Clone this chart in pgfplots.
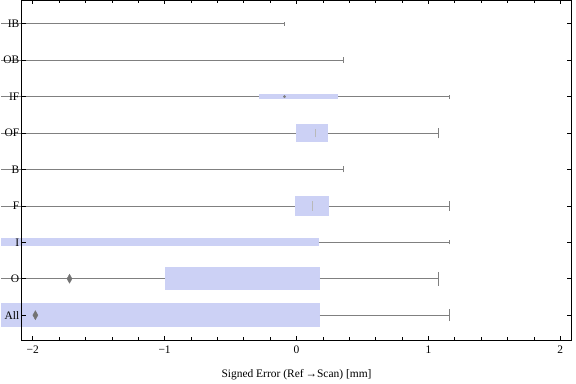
\documentclass[border=0pt]{standalone}
\usepackage{fontspec}
\setmainfont{Liberation Serif}
\usepackage{pgfplots}
\pgfplotsset{compat=1.18}
\definecolor{boxc}{rgb}{0.8,0.82,0.96}
\definecolor{wh}{rgb}{0.5,0.5,0.5}
\definecolor{outc}{rgb}{0.45,0.45,0.45}
\begin{document}
\begin{tikzpicture}
\begin{axis}[
 scale only axis, width=551pt, height=340.5pt,
 xmin=-2.083, xmax=2.083, ymin=0.32, ymax=9.64,
 clip=false, axis on top,
 axis line style={line width=0.8pt},
 xtick={-2,-1,0,1,2}, xticklabels={−2,−1,0,1,2}, minor x tick num=4,
 ytick={1,...,9}, yticklabels={All,O,I,F,B,OF,IF,OB,IB},
 tick align=inside, major tick length=4pt, minor tick length=2.5pt,
 tick style={black, line width=0.6pt},
 ticklabel style={font=\fontsize{11.5}{13}\selectfont},
 yticklabel style={xshift=1pt},
 xticklabel style={yshift=-2.5pt},
 xlabel={Signed Error (Ref\,→Scan) [mm]},
 xlabel style={font=\fontsize{11.5}{13}\selectfont, yshift=-9pt},
 wsk/.style={wh, line width=0.7pt, forget plot},
 bx/.style={fill=boxc, draw=none, forget plot},
]
% invisible extent to the right edge
\addplot[draw=none, forget plot] coordinates {(2.119,5)};
% ---- boxes
\addplot[bx] coordinates {(-0.286,6.922) (0.314,6.922) (0.314,7.078) (-0.286,7.078)};
\addplot[bx] coordinates {(-0.005,5.744) (0.236,5.744) (0.236,6.256) (-0.005,6.256)};
\addplot[bx] coordinates {(-0.013,3.717) (0.244,3.717) (0.244,4.283) (-0.013,4.283)};
\addplot[bx] coordinates {(-2.24,2.89) (0.168,2.89) (0.168,3.11) (-2.24,3.11)};
\addplot[bx] coordinates {(-1.0,1.685) (0.176,1.685) (0.176,2.315) (-1.0,2.315)};
\addplot[bx] coordinates {(-2.24,0.67) (0.176,0.67) (0.176,1.33) (-2.24,1.33)};
% ---- whiskers
% IB
\addplot[wsk] coordinates {(-2.24,9) (-0.094,9)};
\addplot[wsk] coordinates {(-0.094,8.945) (-0.094,9.055)};
% OB
\addplot[wsk] coordinates {(-2.24,8) (0.352,8)};
\addplot[wsk] coordinates {(0.352,7.926) (0.352,8.074)};
% IF
\addplot[wsk] coordinates {(-2.24,7) (-0.286,7)};
\addplot[wsk] coordinates {(0.314,7) (1.161,7)};
\addplot[wsk] coordinates {(1.161,6.945) (1.161,7.055)};
% OF
\addplot[wsk] coordinates {(-2.24,6) (-0.005,6)};
\addplot[wsk] coordinates {(0.236,6) (1.078,6)};
\addplot[wsk] coordinates {(1.078,5.855) (1.078,6.145)};
% B
\addplot[wsk] coordinates {(-2.24,5) (0.355,5)};
\addplot[wsk] coordinates {(0.355,4.918) (0.355,5.082)};
% F
\addplot[wsk] coordinates {(-2.24,4) (-0.013,4)};
\addplot[wsk] coordinates {(0.244,4) (1.161,4)};
\addplot[wsk] coordinates {(1.161,3.871) (1.161,4.129)};
% I
\addplot[wsk] coordinates {(0.168,3) (1.161,3)};
\addplot[wsk] coordinates {(1.161,2.94) (1.161,3.06)};
% O
\addplot[wsk] coordinates {(-2.24,2) (-1.0,2)};
\addplot[wsk] coordinates {(0.176,2) (1.078,2)};
\addplot[wsk] coordinates {(1.078,1.81) (1.078,2.19)};
% All
\addplot[wsk] coordinates {(0.176,1) (1.161,1)};
\addplot[wsk] coordinates {(1.161,0.836) (1.161,1.164)};
% ---- medians
\addplot[only marks, mark=*, mark size=1.2pt, color=wh, forget plot] coordinates {(-0.091,7)};
\addplot[gray!55, line width=0.6pt, forget plot] coordinates {(0.146,5.88) (0.146,6.12)};
\addplot[gray!55, line width=0.6pt, forget plot] coordinates {(0.121,3.87) (0.121,4.13)};
% ---- outliers
\addplot[only marks, mark=diamond*, mark size=4.5pt, color=outc, mark options={xscale=0.75, draw=none, fill=outc}, forget plot] coordinates {(-1.721,2) (-1.98,1)};
\end{axis}
\end{tikzpicture}
\end{document}
